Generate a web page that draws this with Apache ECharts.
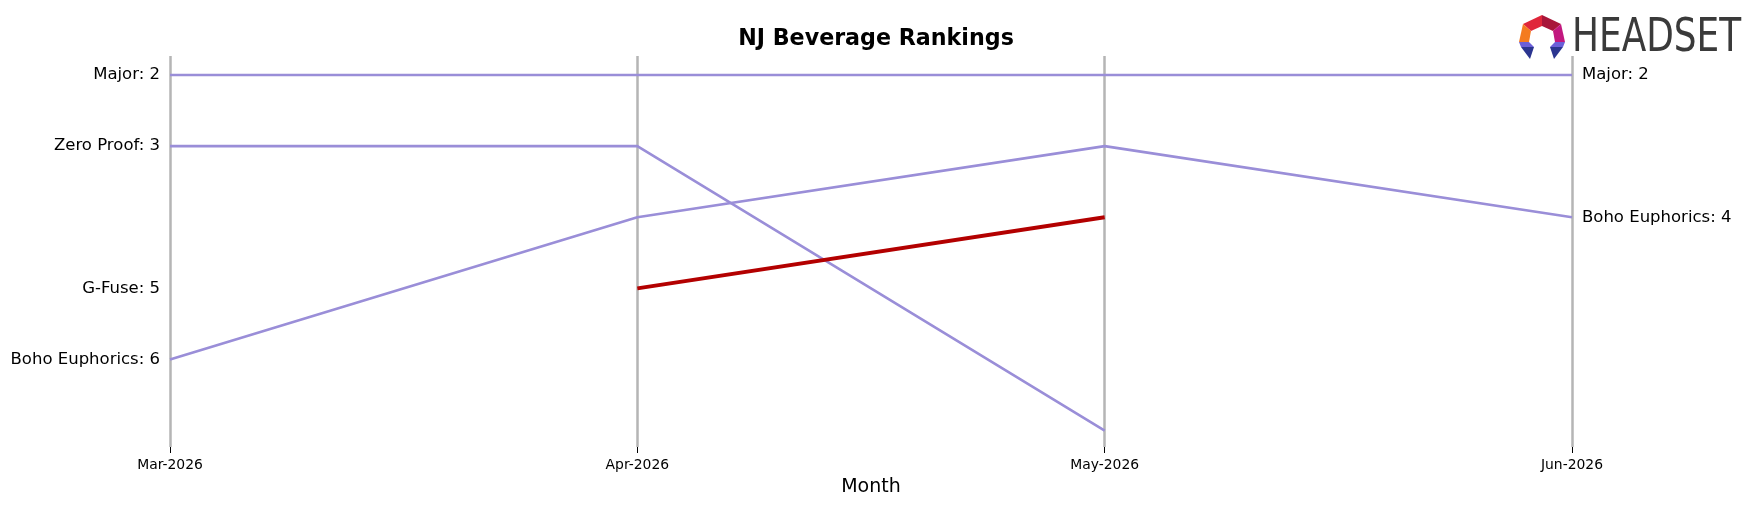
<!DOCTYPE html>
<html>
<head>
<meta charset="utf-8">
<script src="https://cdn.jsdelivr.net/npm/echarts@6/dist/echarts.min.js"></script>
<style>
html,body{margin:0;padding:0;background:#fff;}
#chart{width:1754px;height:507px;}
</style>
</head>
<body>
<div id="chart"></div>
<script>
// ---- data ----
const months = ['Mar-2026', 'Apr-2026', 'May-2026', 'Jun-2026'];
const brands = ['Major', 'Zero Proof', 'Boho Euphorics', 'G-Fuse'];
const majorRanks = [2, 2, 2, 2];
const zeroProofRanks = [3, 3, 7, null];
const bohoRanks = [6, 4, 3, 4];
const gFuseRanks = [null, 5, 4, null];
const highlightBrand = 'G-Fuse';

const rankSeries = [majorRanks, zeroProofRanks, bohoRanks, gFuseRanks];

const purple = '#9a8ed8';
const red = '#b30000';

const series = [];
brands.forEach((b, i) => {
  const hl = b === highlightBrand;
  series.push({
    name: b,
    type: 'line',
    data: rankSeries[i],
    symbol: 'none',
    connectNulls: false,
    z: hl ? 4 : 3,
    lineStyle: { color: hl ? red : purple, width: hl ? 3.8 : 2.6 },
    emphasis: { disabled: true },
    animation: false
  });
});

// left labels: first available rank; right labels: last month rank
const leftData = [];
const rightData = [];
brands.forEach((b, i) => {
  const arr = rankSeries[i];
  const first = arr.find(v => v !== null);
  leftData.push({ value: [months[0], first], name: b });
  const last = arr[arr.length - 1];
  if (last !== null) rightData.push({ value: [months[months.length - 1], last], name: b });
});

const labelFont = { fontFamily: 'DejaVu Sans', fontSize: 16.5, color: '#000', opacity: 1 };
series.push({
  type: 'scatter', data: leftData, symbolSize: 0, silent: true, z: 5,
  itemStyle: { opacity: 1 },
  label: { show: true, position: 'left', distance: 10, ...labelFont,
    formatter: p => p.name + ': ' + p.value[1] }
});
series.push({
  type: 'scatter', data: rightData, symbolSize: 0, silent: true, z: 5,
  itemStyle: { opacity: 1 },
  label: { show: true, position: 'right', distance: 10, ...labelFont,
    formatter: p => p.name + ': ' + p.value[1] }
});

const chart = echarts.init(document.getElementById('chart'), null, { renderer: 'canvas' });
chart.setOption({
  animation: false,
  backgroundColor: '#fff',
  title: {
    text: 'NJ Beverage Rankings',
    left: 871, top: 23, textAlign: 'center',
    textStyle: { fontFamily: 'DejaVu Sans', fontWeight: 'bold', fontSize: 22.2, color: '#000' }
  },
  grid: { left: 170, right: 182, top: 56, bottom: 60, containLabel: false },
  xAxis: {
    type: 'category', data: months, boundaryGap: false,
    axisLine: { show: false },
    axisTick: { show: true, length: 6, lineStyle: { color: '#000', width: 1 } },
    axisLabel: { margin: 11, fontFamily: 'DejaVu Sans', fontSize: 13.9, color: '#000' },
    splitLine: { show: true, lineStyle: { color: '#b5b5b5', width: 2.5 } },
    name: 'Month', nameLocation: 'middle', nameGap: 31,
    nameTextStyle: { fontFamily: 'DejaVu Sans', fontSize: 19, color: '#000' }
  },
  yAxis: {
    type: 'value', inverse: true, min: 1.733, max: 7.23, show: false,
    splitLine: { show: false }
  },
  series: series,
  graphic: [
    { type: 'polygon', shape: { points: [[1542,15],[1523,24],[1531,31],[1542,26]] }, style: { fill: '#e0263a' } },
    { type: 'polygon', shape: { points: [[1542,15],[1561,24],[1553,31],[1542,26]] }, style: { fill: '#a8163a' } },
    { type: 'polygon', shape: { points: [[1523,24],[1519,42],[1529,42],[1531,31]] }, style: { fill: '#f47b20' } },
    { type: 'polygon', shape: { points: [[1561,24],[1565,42],[1555,42],[1553,31]] }, style: { fill: '#c2187f' } },
    { type: 'polygon', shape: { points: [[1519,42],[1529,42],[1534,47],[1521,47]] }, style: { fill: '#6b5fd8' } },
    { type: 'polygon', shape: { points: [[1521,47],[1534,47],[1530,59]] }, style: { fill: '#2b3590' } },
    { type: 'polygon', shape: { points: [[1565,42],[1555,42],[1550,47],[1563,47]] }, style: { fill: '#6b5fd8' } },
    { type: 'polygon', shape: { points: [[1563,47],[1550,47],[1554,59]] }, style: { fill: '#2b3590' } },
    { type: 'text', x: 1572, y: 39, scaleX: 0.78,
      style: { text: 'HEADSET', fontFamily: 'DejaVu Sans', fontSize: 46, fill: '#3a3a3a', verticalAlign: 'middle', align: 'left' } }
  ]
});
</script>
</body>
</html>
